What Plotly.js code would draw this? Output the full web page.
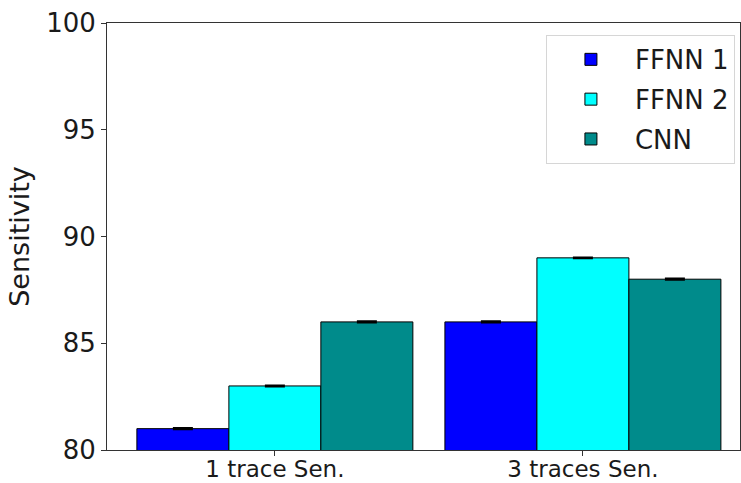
<!DOCTYPE html>
<html>
<head>
<meta charset="utf-8">
<script src="https://cdn.plot.ly/plotly-3.0.1.min.js"></script>
<style>html,body{margin:0;padding:0;background:#fff;}#chart{width:741px;height:483px;}</style>
</head>
<body>
<div id="chart"></div>
<script>
// Sensitivity per model for the two trace settings
const categories = ['1 trace Sen.', '3 traces Sen.'];
const seriesNames = ['FFNN 1', 'FFNN 2', 'CNN'];
const ffnn1 = [81, 86];
const ffnn2 = [83, 89];
const cnn = [86, 88];
const ffnn1Err = [0.03, 0.03];
const ffnn2Err = [0.02, 0.02];
const cnnErr = [0.03, 0.03];
const yTicks = [80, 85, 90, 95, 100];

const colors = ['#0000ff', '#00ffff', '#008b8b'];
const values = [ffnn1, ffnn2, cnn];
const errs = [ffnn1Err, ffnn2Err, cnnErr];

const traces = seriesNames.map((name, i) => ({
  type: 'bar',
  name: name,
  legendgroup: name,
  x: categories,
  y: values[i],
  marker: {color: colors[i], line: {color: '#000', width: 1}},
  error_y: {type: 'data', array: errs[i], visible: true, color: '#000', thickness: 2, width: 10}
}));

const FAM = 'DejaVu Sans, sans-serif';
const TXT = '#1a1a1a';

const layout = {
  width: 741, height: 483,
  margin: {l: 107, r: 1, t: 23, b: 33, pad: 0},
  paper_bgcolor: '#fff', plot_bgcolor: '#fff',
  font: {family: FAM, size: 26, color: TXT},
  barmode: 'group',
  bargap: 0.104,
  bargroupgap: 0,
  showlegend: true,
  legend: {
    x: 0.992, y: 0.972, xanchor: 'right', yanchor: 'top',
    bordercolor: '#d6d6d6', borderwidth: 1, bgcolor: '#fff',
    font: {family: FAM, size: 26, color: TXT},
    itemwidth: 78, traceorder: 'grouped', tracegroupgap: 3
  },
  xaxis: {
    type: 'category', range: [-0.545, 1.51],
    showline: true, linecolor: '#333', linewidth: 1, mirror: true,
    ticks: 'outside', ticklen: 5, tickcolor: '#333',
    ticklabelstandoff: -7,
    showgrid: false, zeroline: false,
    tickfont: {family: FAM, size: 23, color: TXT}
  },
  yaxis: {
    range: [80, 100], tickvals: yTicks, ticktext: yTicks.map(String),
    showline: true, linecolor: '#333', linewidth: 1, mirror: true,
    ticks: 'outside', ticklen: 5, tickcolor: '#333',
    showgrid: false, zeroline: false,
    tickfont: {family: FAM, size: 26, color: TXT},
    title: {text: 'Sensitivity', font: {family: FAM, size: 27, color: TXT}, standoff: 8}
  }
};

Plotly.newPlot('chart', traces, layout, {displayModeBar: false, staticPlot: true});
</script>
</body>
</html>
